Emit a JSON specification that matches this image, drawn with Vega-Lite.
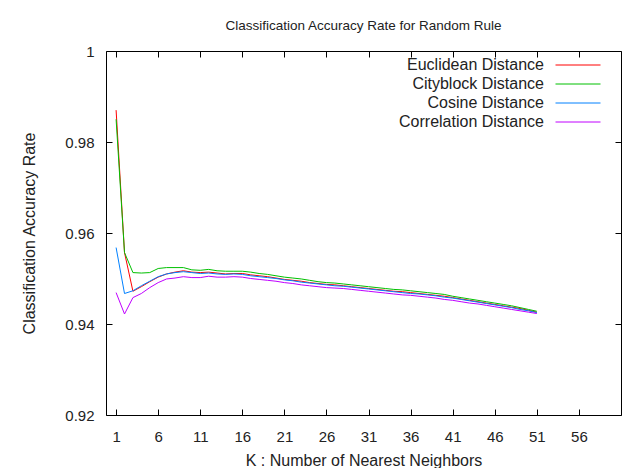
{
  "$schema": "https://vega.github.io/schema/vega-lite/v6.json",
  "autosize": "none",
  "padding": {"left": 106, "top": 51, "right": 3, "bottom": 53},
  "width": 515,
  "height": 364,
  "background": "white",
  "title": {"text": "Classification Accuracy Rate for Random Rule", "fontSize": 13.5, "font": "Liberation Sans", "fontWeight": "normal", "color": "#222", "offset": 12, "anchor": "middle"},
  "config": {
    "view": {"stroke": "black", "strokeWidth": 1},
    "font": "Liberation Sans",
    "axis": {"grid": false, "domain": false, "tickColor": "black", "tickSize": -6, "labelFont": "Liberation Sans", "labelFontSize": 15, "labelColor": "#222", "titleFont": "Liberation Sans", "titleFontSize": 16, "titleFontWeight": "normal", "titleColor": "#222"}
  },
  "data": {"values": [
    {"k":1,"Euclidean Distance":0.987,"Cityblock Distance":0.985,"Cosine Distance":0.9568,"Correlation Distance":0.9469},
    {"k":2,"Euclidean Distance":0.9557,"Cityblock Distance":0.9557,"Cosine Distance":0.9467,"Correlation Distance":0.9422},
    {"k":3,"Euclidean Distance":0.9472,"Cityblock Distance":0.9513,"Cosine Distance":0.9473,"Correlation Distance":0.9458},
    {"k":4,"Euclidean Distance":0.9482,"Cityblock Distance":0.9512,"Cosine Distance":0.9484,"Correlation Distance":0.9467},
    {"k":5,"Euclidean Distance":0.9493,"Cityblock Distance":0.9513,"Cosine Distance":0.9494,"Correlation Distance":0.948},
    {"k":6,"Euclidean Distance":0.9503,"Cityblock Distance":0.9522,"Cosine Distance":0.9504,"Correlation Distance":0.9491},
    {"k":7,"Euclidean Distance":0.951,"Cityblock Distance":0.9524,"Cosine Distance":0.951,"Correlation Distance":0.9499},
    {"k":8,"Euclidean Distance":0.9514,"Cityblock Distance":0.9524,"Cosine Distance":0.9513,"Correlation Distance":0.9501},
    {"k":9,"Euclidean Distance":0.9517,"Cityblock Distance":0.9524,"Cosine Distance":0.9515,"Correlation Distance":0.9504},
    {"k":10,"Euclidean Distance":0.9514,"Cityblock Distance":0.9519,"Cosine Distance":0.9513,"Correlation Distance":0.9502},
    {"k":11,"Euclidean Distance":0.9513,"Cityblock Distance":0.9518,"Cosine Distance":0.9511,"Correlation Distance":0.9502},
    {"k":12,"Euclidean Distance":0.9514,"Cityblock Distance":0.952,"Cosine Distance":0.9512,"Correlation Distance":0.9505},
    {"k":13,"Euclidean Distance":0.9512,"Cityblock Distance":0.9517,"Cosine Distance":0.951,"Correlation Distance":0.9503},
    {"k":14,"Euclidean Distance":0.951,"Cityblock Distance":0.9516,"Cosine Distance":0.9509,"Correlation Distance":0.9503},
    {"k":15,"Euclidean Distance":0.9511,"Cityblock Distance":0.9516,"Cosine Distance":0.951,"Correlation Distance":0.9504},
    {"k":16,"Euclidean Distance":0.9511,"Cityblock Distance":0.9516,"Cosine Distance":0.9509,"Correlation Distance":0.9503},
    {"k":17,"Euclidean Distance":0.9508,"Cityblock Distance":0.9514,"Cosine Distance":0.9506,"Correlation Distance":0.95},
    {"k":18,"Euclidean Distance":0.9506,"Cityblock Distance":0.9511,"Cosine Distance":0.9504,"Correlation Distance":0.9498},
    {"k":19,"Euclidean Distance":0.9504,"Cityblock Distance":0.9509,"Cosine Distance":0.9502,"Correlation Distance":0.9496},
    {"k":20,"Euclidean Distance":0.9501,"Cityblock Distance":0.9506,"Cosine Distance":0.95,"Correlation Distance":0.9494},
    {"k":21,"Euclidean Distance":0.9498,"Cityblock Distance":0.9503,"Cosine Distance":0.9497,"Correlation Distance":0.9491},
    {"k":22,"Euclidean Distance":0.9496,"Cityblock Distance":0.9501,"Cosine Distance":0.9495,"Correlation Distance":0.9489},
    {"k":23,"Euclidean Distance":0.9494,"Cityblock Distance":0.9499,"Cosine Distance":0.9492,"Correlation Distance":0.9486},
    {"k":24,"Euclidean Distance":0.9491,"Cityblock Distance":0.9496,"Cosine Distance":0.949,"Correlation Distance":0.9484},
    {"k":25,"Euclidean Distance":0.9489,"Cityblock Distance":0.9493,"Cosine Distance":0.9488,"Correlation Distance":0.9482},
    {"k":26,"Euclidean Distance":0.9487,"Cityblock Distance":0.9491,"Cosine Distance":0.9486,"Correlation Distance":0.948},
    {"k":27,"Euclidean Distance":0.9486,"Cityblock Distance":0.949,"Cosine Distance":0.9484,"Correlation Distance":0.9479},
    {"k":28,"Euclidean Distance":0.9484,"Cityblock Distance":0.9488,"Cosine Distance":0.9483,"Correlation Distance":0.9478},
    {"k":29,"Euclidean Distance":0.9482,"Cityblock Distance":0.9486,"Cosine Distance":0.9481,"Correlation Distance":0.9476},
    {"k":30,"Euclidean Distance":0.948,"Cityblock Distance":0.9484,"Cosine Distance":0.9479,"Correlation Distance":0.9474},
    {"k":31,"Euclidean Distance":0.9478,"Cityblock Distance":0.9482,"Cosine Distance":0.9477,"Correlation Distance":0.9472},
    {"k":32,"Euclidean Distance":0.9476,"Cityblock Distance":0.948,"Cosine Distance":0.9475,"Correlation Distance":0.947},
    {"k":33,"Euclidean Distance":0.9474,"Cityblock Distance":0.9478,"Cosine Distance":0.9473,"Correlation Distance":0.9468},
    {"k":34,"Euclidean Distance":0.9472,"Cityblock Distance":0.9476,"Cosine Distance":0.9471,"Correlation Distance":0.9466},
    {"k":35,"Euclidean Distance":0.9471,"Cityblock Distance":0.9475,"Cosine Distance":0.9469,"Correlation Distance":0.9464},
    {"k":36,"Euclidean Distance":0.9469,"Cityblock Distance":0.9473,"Cosine Distance":0.9467,"Correlation Distance":0.9463},
    {"k":37,"Euclidean Distance":0.9467,"Cityblock Distance":0.9471,"Cosine Distance":0.9466,"Correlation Distance":0.9461},
    {"k":38,"Euclidean Distance":0.9465,"Cityblock Distance":0.9469,"Cosine Distance":0.9464,"Correlation Distance":0.9459},
    {"k":39,"Euclidean Distance":0.9463,"Cityblock Distance":0.9467,"Cosine Distance":0.9462,"Correlation Distance":0.9457},
    {"k":40,"Euclidean Distance":0.9461,"Cityblock Distance":0.9465,"Cosine Distance":0.9459,"Correlation Distance":0.9454},
    {"k":41,"Euclidean Distance":0.9458,"Cityblock Distance":0.9461,"Cosine Distance":0.9457,"Correlation Distance":0.9452},
    {"k":42,"Euclidean Distance":0.9455,"Cityblock Distance":0.9458,"Cosine Distance":0.9454,"Correlation Distance":0.9449},
    {"k":43,"Euclidean Distance":0.9452,"Cityblock Distance":0.9455,"Cosine Distance":0.9451,"Correlation Distance":0.9446},
    {"k":44,"Euclidean Distance":0.9449,"Cityblock Distance":0.9452,"Cosine Distance":0.9448,"Correlation Distance":0.9444},
    {"k":45,"Euclidean Distance":0.9446,"Cityblock Distance":0.9449,"Cosine Distance":0.9445,"Correlation Distance":0.9441},
    {"k":46,"Euclidean Distance":0.9443,"Cityblock Distance":0.9446,"Cosine Distance":0.9442,"Correlation Distance":0.9438},
    {"k":47,"Euclidean Distance":0.944,"Cityblock Distance":0.9443,"Cosine Distance":0.9439,"Correlation Distance":0.9435},
    {"k":48,"Euclidean Distance":0.9437,"Cityblock Distance":0.944,"Cosine Distance":0.9436,"Correlation Distance":0.9432},
    {"k":49,"Euclidean Distance":0.9434,"Cityblock Distance":0.9436,"Cosine Distance":0.9432,"Correlation Distance":0.9429},
    {"k":50,"Euclidean Distance":0.943,"Cityblock Distance":0.9432,"Cosine Distance":0.9429,"Correlation Distance":0.9426},
    {"k":51,"Euclidean Distance":0.9426,"Cityblock Distance":0.9428,"Cosine Distance":0.9425,"Correlation Distance":0.9423}
  ]},
  "transform": [{"fold": ["Euclidean Distance", "Cityblock Distance", "Cosine Distance", "Correlation Distance"], "as": ["series", "rate"]}],
  "layer": [
    {
      "mark": {"type": "line", "strokeWidth": 1, "interpolate": "linear"},
      "encoding": {
        "x": {"field": "k", "type": "quantitative", "scale": {"domain": [-0.2, 61], "nice": false, "zero": false},
              "axis": {"orient": "bottom", "values": [1,6,11,16,21,26,31,36,41,46,51,56], "labelPadding": 20, "title": "K : Number of Nearest Neighbors", "titlePadding": 8}},
        "y": {"field": "rate", "type": "quantitative", "scale": {"domain": [0.92, 1], "nice": false, "zero": false},
              "axis": {"orient": "left", "values": [0.92,0.94,0.96,0.98,1], "labelExpr": "datum.value == 1 ? '1' : format(datum.value, '.2f')", "labelPadding": 18, "title": "Classification Accuracy Rate", "titlePadding": 27}},
        "color": {"field": "series", "type": "nominal",
                  "scale": {"domain": ["Euclidean Distance", "Cityblock Distance", "Cosine Distance", "Correlation Distance"], "range": ["#ff0000", "#00c000", "#0080ff", "#c000ff"]},
                  "legend": {"orient": "none", "legendX": 464, "legendY": 6, "title": null, "symbolType": "M-3,0H3", "symbolSize": 225, "symbolStrokeWidth": 1, "labelAlign": "right", "labelOffset": -42, "labelFontSize": 16, "labelColor": "#222", "labelFont": "Liberation Sans", "rowPadding": 3, "padding": 0, "labelLimit": 300}},
        "order": {"field": "k", "type": "quantitative"}
      }
    },
    {
      "mark": {"type": "line", "strokeOpacity": 0},
      "encoding": {
        "x": {"field": "k", "type": "quantitative", "axis": {"orient": "top", "values": [1,6,11,16,21,26,31,36,41,46,51,56], "labels": false, "title": null}},
        "y": {"field": "rate", "type": "quantitative", "axis": {"orient": "right", "values": [0.92,0.94,0.96,0.98,1], "labels": false, "title": null}},
        "detail": {"field": "series"}
      }
    }
  ],
  "resolve": {"axis": {"x": "independent", "y": "independent"}}
}
